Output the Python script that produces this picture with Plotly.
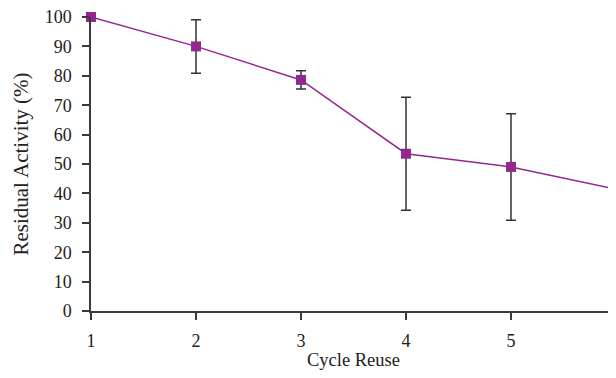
import plotly.graph_objects as go

cycles = [1, 2, 3, 4, 5, 6]
activity = [100, 90, 78.6, 53.5, 49.0, 41.4]
error = [0, 9.1, 3.1, 19.2, 18.1, 13.7]
x_ticks = [1, 2, 3, 4, 5, 6]
y_ticks = [0, 10, 20, 30, 40, 50, 60, 70, 80, 90, 100]

purple = "#93278F"
axis_col = "#3a3a3a"
font_family = "Liberation Serif, Times New Roman, serif"

fig = go.Figure()
fig.add_trace(go.Scatter(
    x=cycles, y=activity,
    mode="lines+markers",
    line=dict(color=purple, width=1.5),
    marker=dict(symbol="square", size=10, color=purple),
    error_y=dict(type="data", array=error, visible=True,
                 color="#333333", thickness=1.5, width=5),
    cliponaxis=False,
    showlegend=False,
))

# the page body has an 8px margin, so the figure is sized to fit the window
fig.update_layout(
    width=608, height=362,
    margin=dict(l=83, r=0, t=9, b=59, autoexpand=False),
    paper_bgcolor="white", plot_bgcolor="white",
    font=dict(family=font_family, size=18, color="#222222"),
    xaxis=dict(
        range=[1, 6], tickvals=x_ticks, ticktext=[str(v) for v in x_ticks],
        showline=True, linecolor=axis_col, linewidth=1.5,
        ticks="outside", ticklen=7, tickwidth=1.5, tickcolor=axis_col,
        showgrid=False, zeroline=False, automargin=False,
        title=dict(text="Cycle Reuse", font=dict(size=18.5), standoff=9),
        ticklabelstandoff=6, ticklabeloverflow="allow",
    ),
    yaxis=dict(
        range=[0, 100], tickvals=y_ticks,
        showline=True, linecolor=axis_col, linewidth=1.5,
        ticks="outside", ticklen=7, tickwidth=1.5, tickcolor=axis_col,
        showgrid=False, zeroline=False, automargin=False,
        title=dict(text="Residual Activity (%)", font=dict(size=21), standoff=10),
        ticklabelstandoff=7, ticklabeloverflow="allow",
    ),
)

fig.write_html("out.html")
